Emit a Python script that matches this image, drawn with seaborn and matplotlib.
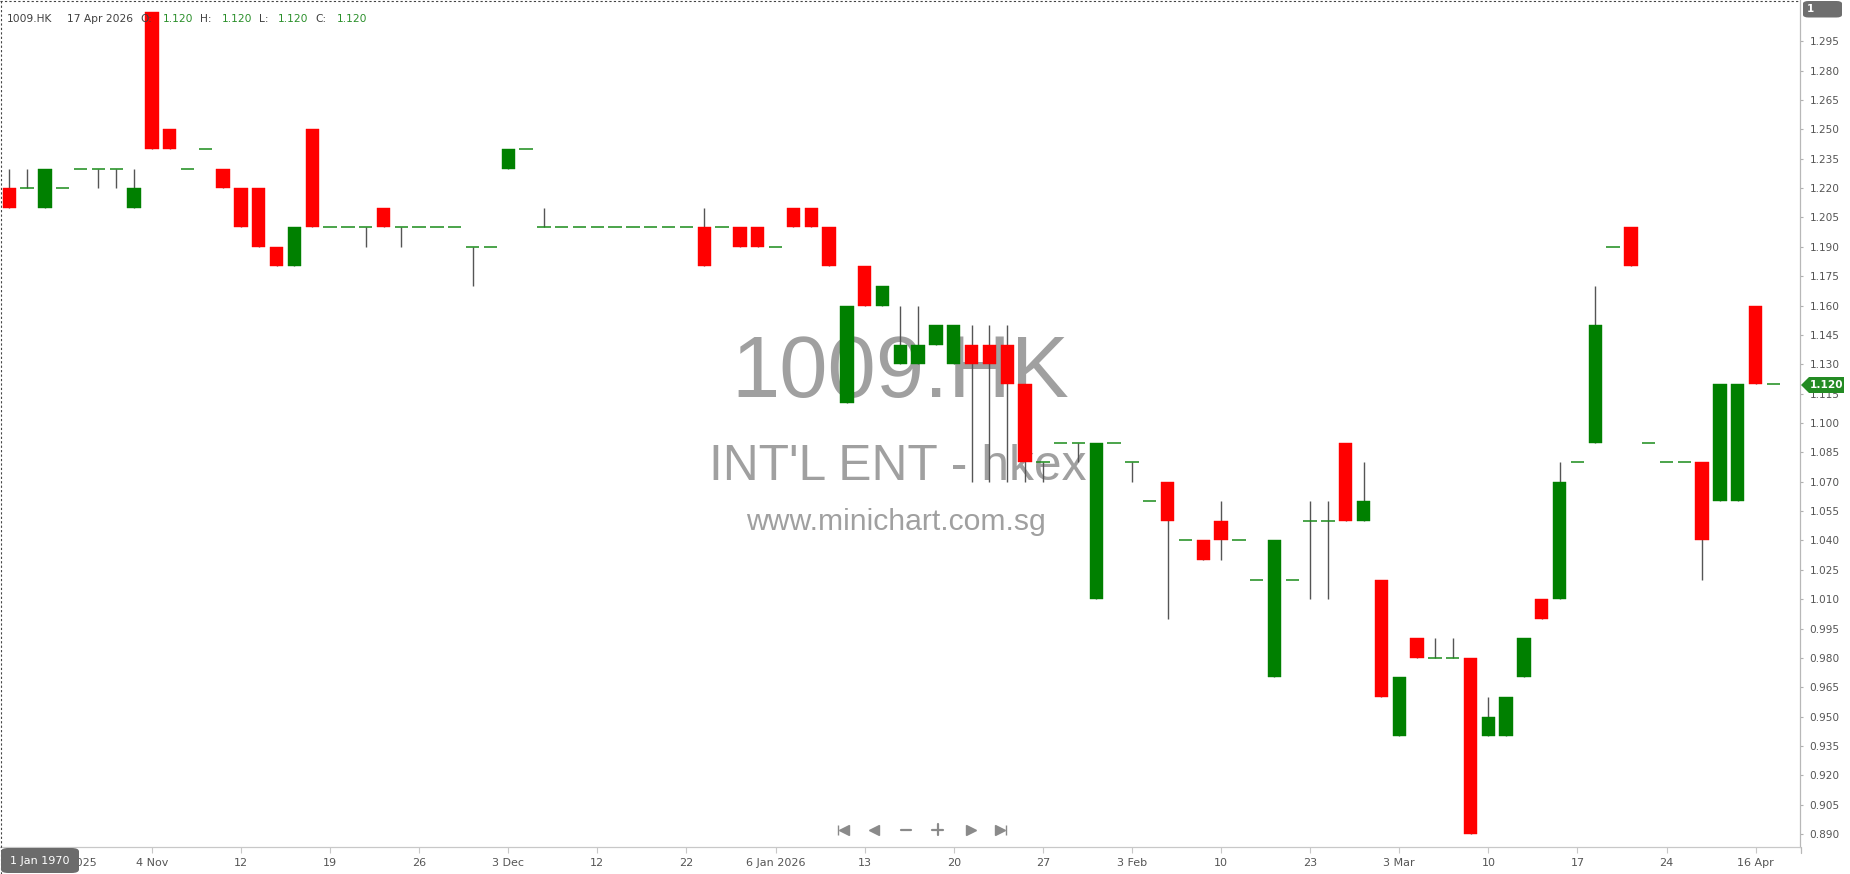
import numpy as np
import pandas as pd
import seaborn as sns
import matplotlib
matplotlib.use("Agg")
import matplotlib.pyplot as plt
from matplotlib.patches import Polygon, FancyBboxPatch
from matplotlib.lines import Line2D

# ---------------- data ----------------
opens = [1.22, 1.22, 1.21, 1.22, 1.23, 1.23, 1.23, 1.21, 1.31, 1.25,
         1.23, 1.24, 1.23, 1.22, 1.22, 1.19, 1.18, 1.25, 1.20, 1.20,
         1.20, 1.21, 1.20, 1.20, 1.20, 1.20, 1.19, 1.19, 1.23, 1.24,
         1.20, 1.20, 1.20, 1.20, 1.20, 1.20, 1.20, 1.20, 1.20, 1.20,
         1.20, 1.20, 1.20, 1.19, 1.21, 1.21, 1.20, 1.11, 1.18, 1.16,
         1.13, 1.13, 1.14, 1.13, 1.14, 1.14, 1.14, 1.12, 1.08, 1.09,
         1.09, 1.01, 1.09, 1.08, 1.06, 1.07, 1.04, 1.04, 1.05, 1.04,
         1.02, 0.97, 1.02, 1.05, 1.05, 1.09, 1.05, 1.02, 0.94, 0.99,
         0.98, 0.98, 0.98, 0.94, 0.94, 0.97, 1.01, 1.01, 1.08, 1.09,
         1.19, 1.20, 1.09, 1.08, 1.08, 1.08, 1.06, 1.06, 1.16, 1.12]
highs = [1.23, 1.23, 1.23, 1.22, 1.23, 1.23, 1.23, 1.23, 1.31, 1.25,
         1.23, 1.24, 1.23, 1.22, 1.22, 1.19, 1.20, 1.25, 1.20, 1.20,
         1.20, 1.21, 1.20, 1.20, 1.20, 1.20, 1.19, 1.19, 1.24, 1.24,
         1.21, 1.20, 1.20, 1.20, 1.20, 1.20, 1.20, 1.20, 1.20, 1.21,
         1.20, 1.20, 1.20, 1.19, 1.21, 1.21, 1.20, 1.16, 1.18, 1.17,
         1.16, 1.16, 1.15, 1.15, 1.15, 1.15, 1.15, 1.12, 1.08, 1.09,
         1.09, 1.09, 1.09, 1.08, 1.06, 1.07, 1.04, 1.04, 1.06, 1.04,
         1.02, 1.04, 1.02, 1.06, 1.06, 1.09, 1.08, 1.02, 0.97, 0.99,
         0.99, 0.99, 0.98, 0.96, 0.96, 0.99, 1.01, 1.08, 1.08, 1.17,
         1.19, 1.20, 1.09, 1.08, 1.08, 1.08, 1.12, 1.12, 1.16, 1.12]
lows = [1.21, 1.22, 1.21, 1.22, 1.23, 1.22, 1.22, 1.21, 1.24, 1.24,
        1.23, 1.24, 1.22, 1.20, 1.19, 1.18, 1.18, 1.20, 1.20, 1.20,
        1.19, 1.20, 1.19, 1.20, 1.20, 1.20, 1.17, 1.19, 1.23, 1.24,
        1.20, 1.20, 1.20, 1.20, 1.20, 1.20, 1.20, 1.20, 1.20, 1.18,
        1.20, 1.19, 1.19, 1.19, 1.20, 1.20, 1.18, 1.11, 1.16, 1.16,
        1.13, 1.13, 1.14, 1.13, 1.07, 1.07, 1.07, 1.07, 1.07, 1.09,
        1.08, 1.01, 1.09, 1.07, 1.06, 1.00, 1.04, 1.03, 1.03, 1.04,
        1.02, 0.97, 1.02, 1.01, 1.01, 1.05, 1.05, 0.96, 0.94, 0.98,
        0.98, 0.98, 0.89, 0.94, 0.94, 0.97, 1.00, 1.01, 1.08, 1.09,
        1.19, 1.18, 1.09, 1.08, 1.08, 1.02, 1.06, 1.06, 1.12, 1.12]
closes = [1.21, 1.22, 1.23, 1.22, 1.23, 1.23, 1.23, 1.22, 1.24, 1.24,
          1.23, 1.24, 1.22, 1.20, 1.19, 1.18, 1.20, 1.20, 1.20, 1.20,
          1.20, 1.20, 1.20, 1.20, 1.20, 1.20, 1.19, 1.19, 1.24, 1.24,
          1.20, 1.20, 1.20, 1.20, 1.20, 1.20, 1.20, 1.20, 1.20, 1.18,
          1.20, 1.19, 1.19, 1.19, 1.20, 1.20, 1.18, 1.16, 1.16, 1.17,
          1.14, 1.14, 1.15, 1.15, 1.13, 1.13, 1.12, 1.08, 1.08, 1.09,
          1.09, 1.09, 1.09, 1.08, 1.06, 1.05, 1.04, 1.03, 1.04, 1.04,
          1.02, 1.04, 1.02, 1.05, 1.05, 1.05, 1.06, 0.96, 0.97, 0.98,
          0.98, 0.98, 0.89, 0.95, 0.96, 0.99, 1.00, 1.07, 1.08, 1.15,
          1.19, 1.18, 1.09, 1.08, 1.08, 1.04, 1.12, 1.12, 1.12, 1.12]

xtick_index = [3, 8, 13, 18, 23, 28, 33, 38, 43, 48,
               53, 58, 63, 68, 73, 78, 83, 88, 93, 98]
xtick_labels = ["28 Oct 2025", "4 Nov", "12", "19", "26", "3 Dec", "12", "22",
                "6 Jan 2026", "13", "20", "27", "3 Feb", "10", "23", "3 Mar",
                "10", "17", "24", "16 Apr"]
ytick_labels = ["1.295", "1.280", "1.265", "1.250", "1.235", "1.220", "1.205",
                "1.190", "1.175", "1.160", "1.145", "1.130", "1.115", "1.100",
                "1.085", "1.070", "1.055", "1.040", "1.025", "1.010", "0.995",
                "0.980", "0.965", "0.950", "0.935", "0.920", "0.905", "0.890"]
last_price = "1.120"
symbol = "1009.HK"
last_date = "17 Apr 2026"

df = pd.DataFrame({"open": opens, "high": highs, "low": lows, "close": closes})
df["idx"] = np.arange(len(df))

# ---------------- style ----------------
sns.set_theme(style="white")
plt.rcParams["font.family"] = ["DejaVu Sans"]

W, H = 1850, 874
fig = plt.figure(figsize=(W / 100, H / 100), dpi=100)
fig.patch.set_facecolor("white")

def fx(px):
    return px / W

def fy(py):
    return 1 - py / H

ax = fig.add_axes([0, fy(847), fx(1800), 847 / H])
ax.set_facecolor("white")

RED = "#ff0000"
GREEN = "#008000"
WICK = "#555555"
BW = 0.75

up = df[df["close"] > df["open"]]
down = df[df["close"] < df["open"]]
flat = df[df["close"] == df["open"]]

# wicks
wk = df[(df["high"] > df["low"])]
ax.vlines(wk["idx"], wk["low"], wk["high"], color=WICK, lw=1.0, zorder=2)
# bodies
ax.bar(up["idx"], up["close"] - up["open"], bottom=up["open"], width=BW,
       color=GREEN, edgecolor=GREEN, linewidth=0.3, zorder=3)
ax.bar(down["idx"], down["open"] - down["close"], bottom=down["close"], width=BW,
       color=RED, edgecolor=RED, linewidth=0.3, zorder=3)
ax.hlines(flat["open"], flat["idx"] - BW / 2, flat["idx"] + BW / 2,
          color="#1a8c1a", lw=1.1, zorder=3)

ax.set_xlim(-0.522, 100.49)
ax.set_ylim(0.8834, 1.3161)

ax.set_xticks(xtick_index)
ax.set_xticklabels(xtick_labels)
ax.set_yticks([float(v) for v in ytick_labels])
ax.set_yticklabels(ytick_labels)
ax.yaxis.tick_right()
ax.tick_params(axis="x", bottom=True, direction="out", length=4, width=0.8,
               color="#c8c8c8", labelsize=8, labelcolor="#555555", pad=4)
ax.tick_params(axis="y", right=True, left=False, direction="out", length=2.5,
               width=0.8, color="#b0b0b0", labelsize=7.6, labelcolor="#555555",
               pad=4.5)
ax.grid(False)
for s in ["top", "left"]:
    ax.spines[s].set_visible(False)
ax.spines["bottom"].set_color("#c8c8c8")
ax.spines["bottom"].set_linewidth(0.9)
ax.spines["right"].set_color("#b8b8b8")
ax.spines["right"].set_linewidth(0.9)

# ---------------- watermark ----------------
wm = "#a0a0a0"
ax.text(fx(900), fy(396.7), symbol, transform=fig.transFigure, ha="center",
        va="baseline", fontsize=62.5, color=wm, family="Liberation Sans", zorder=1)
ax.text(fx(897.5), fy(480), "INT'L ENT - hkex", transform=fig.transFigure,
        ha="center", va="baseline", fontsize=35.8, color=wm,
        family="Liberation Sans", zorder=1)
ax.text(fx(896), fy(530), "www.minichart.com.sg", transform=fig.transFigure,
        ha="center", va="baseline", fontsize=21.7, color=wm,
        family="Liberation Sans", zorder=1)

# ---------------- header ----------------
hy = fy(21.5)
hdr = [(6.7, symbol, "#404040"), (66.7, last_date, "#404040"),
       (140, "O:", "#404040"), (162.7, last_price, "#2a8f2a"),
       (200, "H:", "#404040"), (221.7, last_price, "#2a8f2a"),
       (259, "L:", "#404040"), (278, last_price, "#2a8f2a"),
       (315, "C:", "#404040"), (336.7, last_price, "#2a8f2a")]
for x0, t, c in hdr:
    fig.text(fx(x0), hy, t, ha="left", va="baseline", fontsize=7.7, color=c,
             zorder=10)

# ---------------- frame decorations ----------------
fig.add_artist(Line2D([0, fx(1800)], [fy(0.6), fy(0.6)], transform=fig.transFigure,
                      color="#444444", lw=0.8, ls=(0, (2, 2))))
fig.add_artist(Line2D([fx(0.6), fx(0.6)], [0, 1], transform=fig.transFigure,
                      color="#444444", lw=0.8, ls=(0, (2, 2))))
fig.add_artist(Line2D([fx(1800.5), fx(1800.5)], [fy(847), fy(853)],
                      transform=fig.transFigure, color="#b8b8b8", lw=0.9))

# "1" box top-right
fig.add_artist(FancyBboxPatch((fx(1803), fy(17.5)), fx(39), 16.5 / H,
                              boxstyle="round,pad=0,rounding_size=0.003",
                              transform=fig.transFigure, facecolor="#6e6e6e",
                              edgecolor="none"))
fig.text(fx(1807), fy(9), "1", ha="left", va="center", fontsize=7.5,
         color="white", fontweight="bold")

# last price marker
pts = [(1801, 385), (1809, 377), (1844, 377), (1844, 393), (1809, 393)]
fig.add_artist(Polygon([(fx(a), fy(b)) for a, b in pts], closed=True,
                       transform=fig.transFigure, facecolor="#238b23",
                       edgecolor="none", zorder=20))
fig.text(fx(1827), fy(385), last_price, ha="center", va="center", fontsize=7.6,
         color="white", fontweight="bold", zorder=21)

# "1 Jan 1970" box bottom-left
fig.add_artist(FancyBboxPatch((fx(1), fy(873)), fx(78), 25 / H,
                              boxstyle="round,pad=0,rounding_size=0.004",
                              transform=fig.transFigure, facecolor="#6b6b6b",
                              edgecolor="none", zorder=20))
fig.text(fx(39.5), fy(860.5), "1 Jan 1970", ha="center", va="center",
         fontsize=8, color="white", zorder=21)

# navigation icons
ic = "#8a8a8a"
ny = fy(829.5)
def mk(x, m, s=7.0):
    fig.add_artist(Line2D([fx(x)], [ny], marker=m, markersize=s, color=ic,
                          markeredgecolor=ic, transform=fig.transFigure, lw=0))
mk(844, "<"); mk(837.5, "|", 7.5)
mk(874, "<")
fig.add_artist(Line2D([fx(900.5), fx(911)], [ny, ny], transform=fig.transFigure,
                      color=ic, lw=1.6))
fig.add_artist(Line2D([fx(932), fx(943)], [ny, ny], transform=fig.transFigure,
                      color=ic, lw=1.6))
fig.add_artist(Line2D([fx(937.5), fx(937.5)], [ny - 5.5 / H, ny + 5.5 / H],
                      transform=fig.transFigure, color=ic, lw=1.6))
mk(970.5, ">")
mk(999.5, ">"); mk(1006, "|", 7.5)

fig.savefig("out.png", dpi=100, facecolor="white")
